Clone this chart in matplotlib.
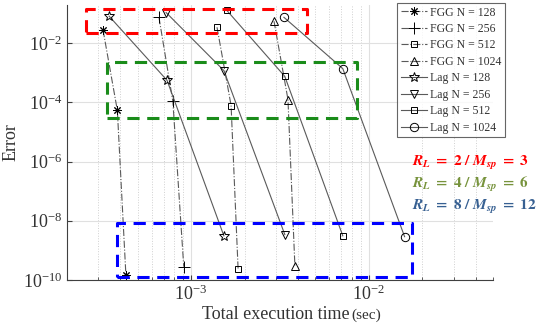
import matplotlib.pyplot as plt
from matplotlib.patches import Rectangle
from matplotlib.ticker import LogLocator, NullFormatter, NullLocator, FixedLocator

plt.rcParams["font.family"] = ["Liberation Serif", "DejaVu Serif"]
plt.rcParams["mathtext.fontset"] = "stix"

# execution time (sec) and error for each run, points ordered R_L = 2, 4, 8
fgg128_t = [3.2e-4, 3.85e-4, 4.3e-4]
fgg128_e = [2.8e-2, 5.4e-5, 1.5e-10]
fgg256_t = [6.6e-4, 7.9e-4, 9.1e-4]
fgg256_e = [7.6e-2, 1.1e-4, 2.8e-10]
fgg512_t = [1.40e-3, 1.68e-3, 1.84e-3]
fgg512_e = [3.5e-2, 7.9e-5, 2.3e-10]
fgg1024_t = [2.93e-3, 3.51e-3, 3.84e-3]
fgg1024_e = [5.6e-2, 1.26e-4, 2.9e-10]
lag128_t = [3.46e-4, 7.33e-4, 1.53e-3]
lag128_e = [8.3e-2, 5.6e-4, 3.1e-9]
lag256_t = [7.24e-4, 1.53e-3, 3.37e-3]
lag256_e = [0.11, 1.2e-3, 3.4e-9]
lag512_t = [1.59e-3, 3.37e-3, 7.14e-3]
lag512_e = [0.13, 7.6e-4, 3.1e-9]
lag1024_t = [3.33e-3, 7.14e-3, 1.59e-2]
lag1024_e = [7.6e-2, 1.4e-3, 2.9e-9]

series_labels = ["FGG N = 128", "FGG N = 256", "FGG N = 512", "FGG N = 1024",
                 "Lag N = 128", "Lag N = 256", "Lag N = 512", "Lag N = 1024"]
y_ticks = [1e-10, 1e-8, 1e-6, 1e-4, 1e-2]

# dashed groups: (x0, x1, y0, y1) in data units
box_red = (2.57e-4, 4.49e-3, 2.2e-2, 0.142)
box_green = (3.37e-4, 8.57e-3, 3.1e-5, 2.27e-3)
box_blue = (3.84e-4, 1.74e-2, 1.26e-10, 8.5e-9)
group_labels = [r"$\mathbfit{R_L}\ \mathbf{=\ 2\ /}\ \mathbfit{M_{sp}}\ \mathbf{=\ 3}$",
                r"$\mathbfit{R_L}\ \mathbf{=\ 4\ /}\ \mathbfit{M_{sp}}\ \mathbf{=\ 6}$",
                r"$\mathbfit{R_L}\ \mathbf{=\ 8\ /}\ \mathbfit{M_{sp}}\ \mathbf{=\ 12}$"]
group_colors = ["#ff0000", "#77933c", "#376092"]
box_colors = ["#ff0000", "#1a8c1a", "#0000ff"]

fig = plt.figure(figsize=(5.43, 3.27), dpi=100)
ax = fig.add_axes([0.123, 0.144, 0.785, 0.841])

gray = "#5a5a5a"
mk = dict(color=gray, markeredgecolor="black", markerfacecolor="none",
          markersize=6, markeredgewidth=0.7, linewidth=0.8)

ax.plot(fgg128_t, fgg128_e, linestyle="-.", marker=(8, 2, 0), label=series_labels[0], **mk)
ax.plot(fgg256_t, fgg256_e, linestyle="-.", marker="+", label=series_labels[1], **{**mk, "markersize": 8})
ax.plot(fgg512_t, fgg512_e, linestyle="-.", marker="s", label=series_labels[2], **{**mk, "markersize": 5})
ax.plot(fgg1024_t, fgg1024_e, linestyle="-.", marker="^", label=series_labels[3], **mk)
ax.plot(lag128_t, lag128_e, linestyle="-", marker="*", label=series_labels[4], **{**mk, "markersize": 7})
ax.plot(lag256_t, lag256_e, linestyle="-", marker="v", label=series_labels[5], **mk)
ax.plot(lag512_t, lag512_e, linestyle="-", marker="s", label=series_labels[6], **{**mk, "markersize": 5})
ax.plot(lag1024_t, lag1024_e, linestyle="-", marker="o", label=series_labels[7], **mk)

ax.set_xscale("log")
ax.set_yscale("log")
ax.set_xlim(2e-4, 5e-2)
ax.set_ylim(1e-10, 10 ** -0.7)
ax.yaxis.set_major_locator(FixedLocator(y_ticks))
ax.yaxis.set_minor_locator(NullLocator())
ax.xaxis.set_minor_locator(LogLocator(base=10, subs=range(2, 10), numticks=20))
ax.xaxis.set_minor_formatter(NullFormatter())

ax.grid(True, which="major", color="#e0e0e0", linewidth=0.8)
ax.grid(True, which="minor", axis="x", color="#d0d0d0", linestyle=":", linewidth=0.7)
ax.set_axisbelow(True)
ax.spines["top"].set_visible(False)
ax.spines["right"].set_visible(False)
for s in ["left", "bottom"]:
    ax.spines[s].set_color("#404040")
ax.tick_params(which="both", direction="in", colors="#404040", labelcolor="#333333", labelsize=13)
ax.tick_params(which="minor", length=2)

for (x0, x1, y0, y1), c in zip([box_red, box_green, box_blue], box_colors):
    ax.add_patch(Rectangle((x0, y0), x1 - x0, y1 - y0, fill=False, edgecolor=c,
                           linestyle=(0, (4, 2.5)), linewidth=2.2, zorder=5,
                           joinstyle="round"))

ax.set_ylabel("Error", fontsize=13, color="#333333")
ax.yaxis.set_label_coords(-0.112, 0.5)
fig.text(0.643, 0.037, "Total execution time", ha="right", va="center", fontsize=13, color="#333333")
fig.text(0.648, 0.037, "(sec)", ha="left", va="center", fontsize=11, color="#333333")

for i, (txt, c) in enumerate(zip(group_labels, group_colors)):
    fig.text(0.758, 0.503 - i * 0.068, txt, color=c, fontsize=11, ha="left", va="center")

leg = ax.legend(loc="upper right", bbox_to_anchor=(1.028, 1.007), borderaxespad=0,
                fontsize=8.5, frameon=True, fancybox=False, handlelength=2.2,
                labelspacing=0.38, handletextpad=0.3, borderpad=0.3)
leg.get_frame().set_edgecolor("#404040")
leg.get_frame().set_linewidth(0.8)
for t in leg.get_texts():
    t.set_color("#333333")

fig.savefig("out.png", dpi=100)
